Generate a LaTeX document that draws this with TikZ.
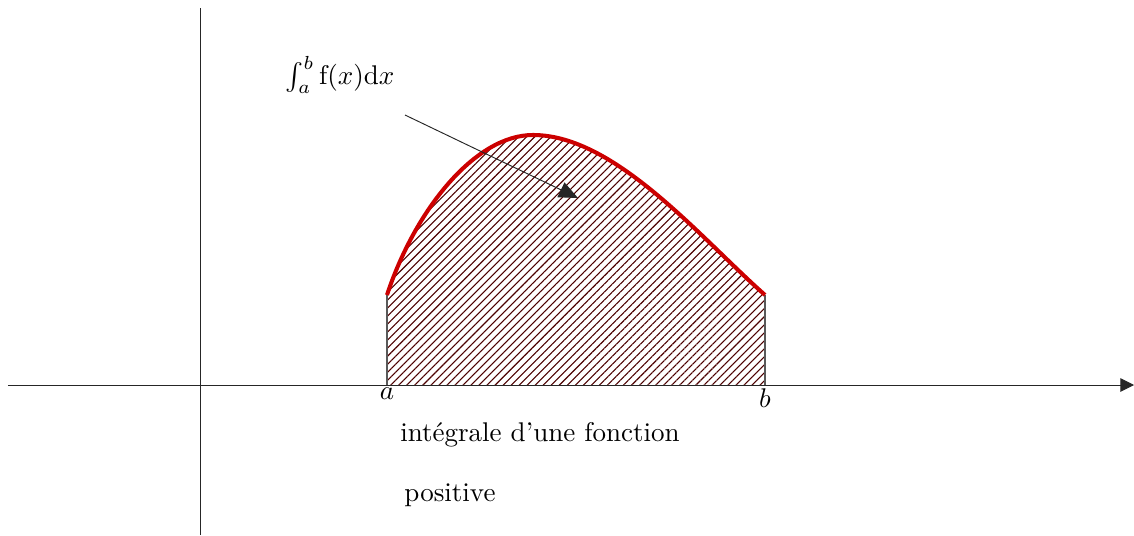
\documentclass[tikz,border=0pt]{standalone}
\usepackage{amsmath}
\usepackage{tikz}
\usetikzlibrary{arrows.meta,patterns.meta}

\begin{document}
\begin{tikzpicture}[
    x=0.65cm, y=0.65cm,
    axis/.style={draw=black!85, line width=0.35pt},
    courbe/.style={draw=red!80!black, line width=1.5pt, line join=round},
    hachure/.style={pattern={Lines[angle=45, distance=2.1pt, line width=0.4pt]}, pattern color=red!30!black},
    bord/.style={draw=gray!70!black, line width=0.6pt},
    label/.style={font=\normalsize}
]
\useasboundingbox (-4,-3) rectangle (18.68,7.7);
% Area under the curve
\coordinate (A) at (3.74,0);
\coordinate (B) at (11.3,0);
\coordinate (fA) at (3.74,1.8);
\coordinate (fB) at (11.3,1.8);
\coordinate (sommet) at (6.66,5.0);
\def\courbe{(fA) .. controls (4.3,3.5) and (5.5,5.0) .. (sommet) .. controls (8.3,5.0) and (10.0,2.95) .. (fB)}
\path[hachure] (A) -- \courbe -- (B) -- cycle;
\draw[bord] (A) -- (fA);
\draw[bord] (B) -- (fB);
\draw[courbe] \courbe;
% Axes
\coordinate (xmin) at (-3.84,0);
\coordinate (xmax) at (18.68,0);
\coordinate (ymin) at (0,-3);
\coordinate (ymax) at (0,7.54);
\draw[axis, -{Triangle[length=5pt,width=5pt]}] (xmin) -- (xmax);
\draw[axis] (ymin) -- (ymax);
% Labels
\node[label, anchor=north, inner sep=1pt] (la) at (A) {$a$};
\node[label, anchor=north, inner sep=1pt] (lb) at (B) {$b$};
\node[label] (integ) at (2.8,6.2) {$\int_a^b \mathrm{f}(x)\mathrm{d}x$};
\coordinate (debut) at (4.1,5.4);
\coordinate (fin) at (7.56,3.74);
\draw[axis, -{Triangle[length=7pt,width=6pt]}] (debut) -- (fin);
\node[label] (titre) at (6.8,-1.0) {intégrale d'une fonction};
\node[label] (pos) at (5.0,-2.2) {positive};
\end{tikzpicture}
\end{document}
